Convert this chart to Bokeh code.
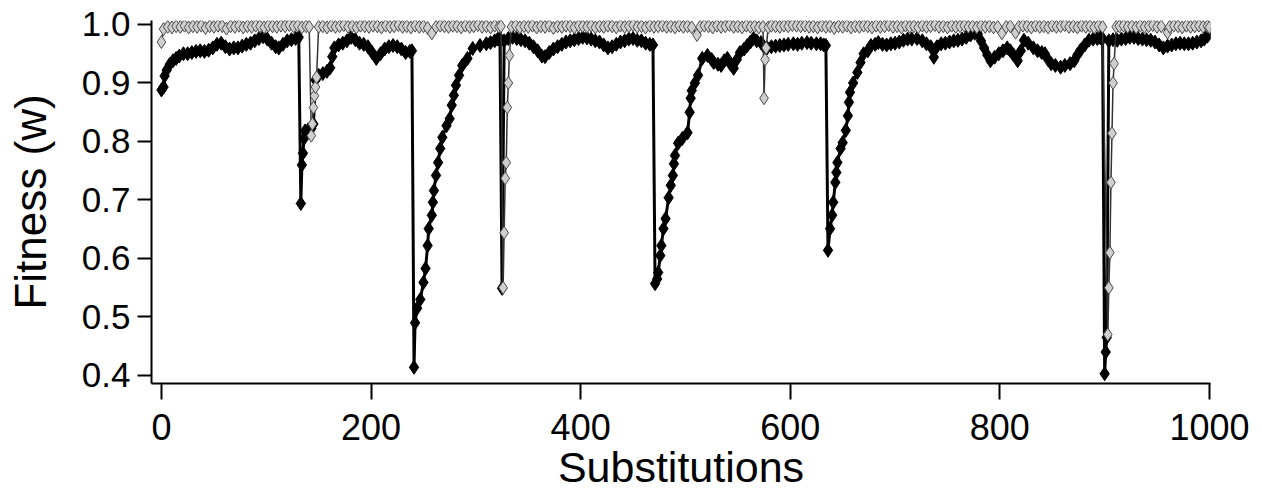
from bokeh.plotting import figure
from bokeh.models import Range1d, FixedTicker, PrintfTickFormatter
from bokeh.embed import file_html
from bokeh.resources import INLINE

# ---- data ----
x_ticks = [0, 200, 400, 600, 800, 1000]
y_ticks = [0.4, 0.5, 0.6, 0.7, 0.8, 0.9, 1.0]

black_x = [
    0, 2, 3, 5, 8, 11, 14, 17, 21, 25,
    29, 33, 37, 41, 45, 49, 53, 57, 61, 65,
    69, 73, 77, 81, 85, 89, 93, 97, 101, 105,
    109, 112, 116, 120, 124, 128, 131, 133, 134, 135,
    136, 137, 140, 143, 145, 147, 150, 154, 158, 161,
    163, 165, 169, 173, 177, 181, 185, 189, 193, 197,
    201, 205, 209, 213, 217, 221, 225, 229, 233, 237,
    239, 241, 242, 244, 247, 250, 252, 254, 255, 258,
    259, 260, 262, 264, 266, 268, 272, 275, 277, 279,
    281, 284, 287, 292, 297, 304, 310, 314, 318, 321,
    323, 325, 327, 331, 335, 339, 343, 347, 351, 355,
    359, 363, 366, 370, 374, 378, 382, 386, 390, 394,
    398, 402, 406, 410, 414, 418, 422, 426, 430, 434,
    438, 442, 446, 450, 454, 458, 462, 466, 469, 471,
    473, 474, 476, 477, 479, 481, 484, 486, 488, 489,
    490, 493, 497, 502, 504, 505, 506, 509, 512, 516,
    521, 525, 527, 531, 534, 537, 540, 543, 546, 549,
    552, 556, 559, 562, 565, 568, 572, 575, 578, 582,
    586, 590, 594, 598, 603, 607, 611, 616, 620, 625,
    629, 632, 634, 636, 638, 640, 641, 643, 644, 645,
    648, 650, 653, 655, 656, 657, 660, 664, 667, 670,
    674, 677, 681, 684, 688, 692, 696, 700, 704, 708,
    712, 716, 721, 726, 730, 734, 737, 740, 744, 748,
    752, 756, 760, 764, 768, 772, 776, 779, 782, 785,
    788, 791, 795, 799, 803, 807, 810, 813, 817, 820,
    823, 827, 832, 836, 840, 843, 846, 849, 853, 858,
    862, 867, 871, 874, 877, 881, 885, 889, 893, 896,
    898, 900, 901, 902, 904, 908, 912, 916, 920, 924,
    928, 932, 936, 940, 944, 948, 952, 956, 960, 964,
    968, 972, 976, 980, 984, 988, 992, 995, 998, 1000,
]
black_w = [
    0.888, 0.893, 0.912, 0.922, 0.932, 0.938, 0.942, 0.946, 0.950, 0.950,
    0.952, 0.954, 0.955, 0.954, 0.956, 0.960, 0.966, 0.968, 0.962, 0.958,
    0.960, 0.960, 0.963, 0.966, 0.968, 0.972, 0.976, 0.979, 0.975, 0.968,
    0.962, 0.960, 0.966, 0.972, 0.974, 0.976, 0.978, 0.694, 0.760, 0.780,
    0.805, 0.818, 0.820, 0.822, 0.830, 0.905, 0.913, 0.916, 0.920, 0.926,
    0.945, 0.960, 0.965, 0.968, 0.972, 0.978, 0.974, 0.968, 0.966, 0.962,
    0.952, 0.942, 0.950, 0.958, 0.962, 0.964, 0.962, 0.958, 0.952, 0.954,
    0.955, 0.414, 0.490, 0.515, 0.530, 0.559, 0.583, 0.622, 0.651, 0.674,
    0.696, 0.716, 0.742, 0.764, 0.788, 0.807, 0.827, 0.839, 0.862, 0.879,
    0.896, 0.913, 0.930, 0.942, 0.959, 0.964, 0.967, 0.969, 0.972, 0.975,
    0.976, 0.549, 0.972, 0.976, 0.978, 0.976, 0.974, 0.972, 0.968, 0.962,
    0.955, 0.946, 0.945, 0.952, 0.958, 0.962, 0.966, 0.970, 0.972, 0.974,
    0.976, 0.978, 0.977, 0.975, 0.972, 0.970, 0.965, 0.960, 0.962, 0.966,
    0.970, 0.972, 0.975, 0.976, 0.973, 0.972, 0.968, 0.966, 0.965, 0.557,
    0.565, 0.576, 0.605, 0.622, 0.651, 0.668, 0.704, 0.725, 0.742, 0.762,
    0.776, 0.797, 0.805, 0.815, 0.850, 0.874, 0.887, 0.900, 0.913, 0.942,
    0.947, 0.940, 0.935, 0.932, 0.930, 0.938, 0.942, 0.932, 0.925, 0.940,
    0.952, 0.958, 0.964, 0.970, 0.976, 0.972, 0.969, 0.962, 0.960, 0.962,
    0.963, 0.964, 0.965, 0.966, 0.967, 0.966, 0.968, 0.969, 0.968, 0.967,
    0.967, 0.965, 0.964, 0.614, 0.651, 0.674, 0.696, 0.730, 0.747, 0.764,
    0.788, 0.798, 0.819, 0.844, 0.867, 0.884, 0.900, 0.918, 0.935, 0.950,
    0.955, 0.964, 0.966, 0.969, 0.966, 0.965, 0.967, 0.968, 0.970, 0.973,
    0.975, 0.975, 0.976, 0.972, 0.967, 0.962, 0.944, 0.962, 0.967, 0.968,
    0.970, 0.972, 0.973, 0.975, 0.978, 0.982, 0.985, 0.984, 0.972, 0.960,
    0.948, 0.938, 0.944, 0.950, 0.955, 0.960, 0.955, 0.948, 0.938, 0.955,
    0.973, 0.968, 0.960, 0.955, 0.952, 0.950, 0.940, 0.933, 0.930, 0.927,
    0.930, 0.933, 0.938, 0.948, 0.956, 0.965, 0.973, 0.975, 0.976, 0.977,
    0.976, 0.403, 0.440, 0.465, 0.972, 0.974, 0.973, 0.975, 0.976, 0.978,
    0.978, 0.976, 0.975, 0.974, 0.973, 0.970, 0.965, 0.960, 0.963, 0.965,
    0.967, 0.968, 0.967, 0.967, 0.968, 0.970, 0.972, 0.975, 0.980, 0.985,
]

gray_x = [
    0, 2, 6, 10, 14, 18, 22, 26, 30, 34,
    38, 42, 46, 50, 54, 58, 62, 66, 70, 74,
    78, 82, 86, 90, 94, 98, 102, 106, 110, 114,
    118, 122, 126, 130, 134, 138, 141, 143, 144, 145,
    146, 147, 148, 150, 154, 158, 162, 166, 170, 174,
    178, 182, 186, 190, 194, 198, 202, 206, 210, 214,
    218, 222, 226, 230, 234, 238, 242, 246, 250, 254,
    258, 262, 266, 270, 274, 278, 282, 286, 290, 294,
    298, 302, 306, 310, 314, 318, 322, 324, 326, 327,
    328, 329, 330, 331, 332, 334, 338, 342, 346, 350,
    354, 358, 362, 366, 370, 374, 378, 382, 386, 390,
    394, 398, 402, 406, 410, 414, 418, 422, 426, 430,
    434, 438, 442, 446, 450, 454, 458, 462, 466, 470,
    474, 478, 482, 486, 490, 494, 498, 502, 506, 511,
    514, 518, 522, 526, 530, 534, 538, 542, 546, 550,
    554, 558, 562, 566, 570, 574, 575, 576, 577, 579,
    582, 586, 590, 594, 598, 602, 606, 610, 614, 618,
    622, 626, 630, 634, 638, 642, 646, 650, 654, 658,
    662, 666, 670, 674, 678, 682, 686, 690, 694, 698,
    702, 706, 710, 714, 718, 722, 726, 730, 734, 738,
    742, 746, 750, 754, 758, 762, 766, 770, 774, 778,
    782, 786, 790, 794, 798, 802, 806, 810, 815, 818,
    822, 826, 830, 834, 838, 842, 846, 850, 854, 858,
    862, 866, 870, 874, 878, 882, 886, 890, 894, 898,
    903, 904, 905, 906, 907, 908, 909, 911, 914, 918,
    922, 926, 930, 934, 938, 942, 946, 950, 954, 960,
    962, 966, 970, 974, 978, 982, 986, 990, 994, 998,
    1000,
]
gray_w = [
    0.970, 0.992, 0.996, 0.995, 0.997, 0.996, 0.998, 0.995, 0.997, 0.996,
    0.998, 0.994, 0.997, 0.996, 0.998, 0.997, 0.993, 0.997, 0.996, 0.998,
    0.995, 0.997, 0.996, 0.998, 0.997, 0.995, 0.998, 0.997, 0.996, 0.998,
    0.997, 0.999, 0.997, 0.998, 0.995, 0.997, 0.996, 0.810, 0.830, 0.858,
    0.878, 0.893, 0.910, 0.996, 0.997, 0.995, 0.998, 0.996, 0.997, 0.999,
    0.996, 0.997, 0.995, 0.998, 0.997, 0.996, 0.998, 0.997, 0.995, 0.998,
    0.996, 0.997, 0.999, 0.996, 0.997, 0.995, 0.998, 0.996, 0.997, 0.994,
    0.985, 0.996, 0.998, 0.997, 0.996, 0.998, 0.997, 0.995, 0.998, 0.996,
    0.997, 0.999, 0.996, 0.997, 0.995, 0.998, 0.996, 0.997, 0.550, 0.644,
    0.737, 0.764, 0.858, 0.900, 0.947, 0.996, 0.998, 0.995, 0.997, 0.996,
    0.998, 0.995, 0.997, 0.996, 0.998, 0.994, 0.997, 0.996, 0.998, 0.997,
    0.995, 0.998, 0.997, 0.996, 0.998, 0.995, 0.997, 0.996, 0.998, 0.997,
    0.995, 0.998, 0.996, 0.997, 0.999, 0.996, 0.997, 0.995, 0.998, 0.996,
    0.997, 0.998, 0.996, 0.997, 0.995, 0.998, 0.996, 0.997, 0.995, 0.982,
    0.996, 0.998, 0.997, 0.995, 0.998, 0.996, 0.997, 0.999, 0.996, 0.997,
    0.995, 0.998, 0.996, 0.997, 0.995, 0.996, 0.874, 0.940, 0.960, 0.995,
    0.998, 0.997, 0.996, 0.998, 0.997, 0.999, 0.998, 0.997, 0.998, 0.996,
    0.997, 0.995, 0.998, 0.996, 0.997, 0.994, 0.997, 0.996, 0.998, 0.995,
    0.997, 0.996, 0.998, 0.997, 0.995, 0.998, 0.996, 0.997, 0.999, 0.996,
    0.997, 0.995, 0.998, 0.996, 0.997, 0.995, 0.998, 0.996, 0.997, 0.999,
    0.996, 0.997, 0.995, 0.998, 0.996, 0.997, 0.998, 0.996, 0.997, 0.995,
    0.998, 0.996, 0.997, 0.995, 0.996, 0.985, 0.996, 0.997, 0.986, 0.996,
    0.998, 0.997, 0.995, 0.998, 0.996, 0.997, 0.995, 0.998, 0.996, 0.997,
    0.999, 0.996, 0.997, 0.995, 0.998, 0.996, 0.997, 0.995, 0.998, 0.996,
    0.470, 0.550, 0.610, 0.730, 0.814, 0.900, 0.933, 0.996, 0.997, 0.998,
    0.996, 0.997, 0.995, 0.998, 0.996, 0.997, 0.999, 0.996, 0.997, 0.986,
    0.996, 0.998, 0.997, 0.995, 0.998, 0.996, 0.997, 0.998, 0.996, 0.997,
    0.995,
]

assert len(black_x) == len(black_w)
assert len(gray_x) == len(gray_w)

FONT = "Liberation Sans"

p = figure(width=1262, height=496, output_backend="svg", toolbar_location=None,
           x_range=Range1d(-9.5, 1001), y_range=Range1d(0.3863, 1.0068),
           min_border_left=151, min_border_right=52, min_border_top=20,
           min_border_bottom=113, background_fill_color="white",
           border_fill_color="white")
p.outline_line_color = None
p.grid.visible = False

# black series
p.line(black_x, black_w, line_color="black", line_width=3)
p.scatter(black_x, black_w, marker="diamond", size=14, fill_color="black",
          line_color="black")

# gray series
p.line(gray_x, gray_w, line_color="#333333", line_width=1.5)
p.scatter(gray_x, gray_w, marker="diamond", size=13, fill_color="#cfcfcf",
          line_color="#4a4a4a", line_width=1)

xa = p.xaxis[0]
xa.ticker = FixedTicker(ticks=x_ticks)
xa.axis_label = "Substitutions"
xa.axis_line_width = 2
xa.major_tick_line_width = 2
xa.major_tick_out = 16
xa.major_tick_in = 0
xa.minor_tick_line_color = None
xa.major_label_text_font = FONT
xa.major_label_text_font_size = "36px"
xa.major_label_text_color = "black"
xa.major_label_standoff = 14
xa.axis_label_text_font = FONT
xa.axis_label_text_font_size = "43px"
xa.axis_label_text_font_style = "normal"
xa.axis_label_text_color = "black"
xa.axis_label_standoff = 0

ya = p.yaxis[0]
ya.ticker = FixedTicker(ticks=y_ticks)
ya.formatter = PrintfTickFormatter(format="%.1f")
ya.axis_label = "Fitness (w)"
ya.axis_line_width = 2
ya.major_tick_line_width = 2
ya.major_tick_out = 14
ya.major_tick_in = 0
ya.minor_tick_line_color = None
ya.major_label_text_font = FONT
ya.major_label_text_font_size = "35px"
ya.major_label_text_color = "black"
ya.major_label_standoff = 7
ya.axis_label_text_font = FONT
ya.axis_label_text_font_size = "44px"
ya.axis_label_text_font_style = "normal"
ya.axis_label_text_color = "black"
ya.axis_label_standoff = 24

open("out.html", "w").write(file_html(p, INLINE))
